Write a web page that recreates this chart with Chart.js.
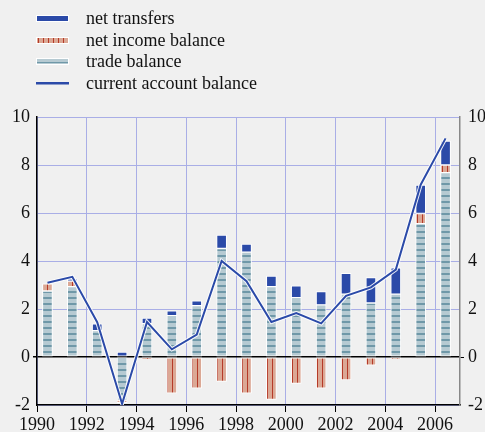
<!DOCTYPE html>
<html>
<head>
<meta charset="utf-8">
<script src="https://cdn.jsdelivr.net/npm/chart.js@4/dist/chart.umd.min.js"></script>
<style>
  html, body { margin: 0; padding: 0; background: #f0f0f0; }
  #wrap { position: relative; width: 485px; height: 432px; overflow: hidden; }
  #legend { position: absolute; left: 36px; top: 8px; font-family: "Liberation Serif", serif; font-size: 18px; color: #111; }
  .item { height: 21.5px; display: flex; align-items: center; }
  .item canvas { width: 33px; height: 7px; margin-right: 17px; }
</style>
</head>
<body>
<div id="wrap">
  <canvas id="chart" width="485" height="432"></canvas>
  <div id="legend"></div>
</div>
<script>
const years = [1990, 1991, 1992, 1993, 1994, 1995, 1996, 1997, 1998, 1999, 2000, 2001, 2002, 2003, 2004, 2005, 2006];
const tradeBalance = [2.75, 2.93, 1.1, -1.8, 1.39, 1.72, 2.14, 4.52, 4.37, 2.93, 2.47, 2.17, 2.62, 2.25, 2.62, 5.56, 7.68];
const netIncome = [0.3, 0.23, 0, -0.1, -0.08, -1.51, -1.3, -1.02, -1.51, -1.77, -1.1, -1.3, -0.96, -0.34, -0.07, 0.42, 0.32];
const netTransfers = [0, 0.1, 0.28, 0.2, 0.23, 0.2, 0.2, 0.56, 0.33, 0.44, 0.5, 0.56, 0.87, 1.06, 1.1, 1.18, 1.0];
const currentAccount = [3.09, 3.34, 1.45, -1.95, 1.46, 0.32, 0.93, 4.0, 3.16, 1.46, 1.83, 1.4, 2.55, 2.9, 3.64, 7.18, 9.11];
const xTicks = [1990, 1992, 1994, 1996, 1998, 2000, 2002, 2004, 2006];
const yTicks = [-2, 0, 2, 4, 6, 8, 10];

const BLUE = '#2b4aa8';
const GRID = '#a9aee6';

function makePattern(kind) {
    const c = document.createElement('canvas');
    const g = c.getContext('2d');
    if (kind === 'trade') {
        c.width = 8; c.height = 6;
        g.fillStyle = '#b6cad2';
        g.fillRect(0, 0, 8, 6);
        g.fillStyle = '#6f98a8';
        g.fillRect(0, 3, 8, 2);
    } else {
        c.width = 5; c.height = 4;
        g.fillStyle = '#dba895';
        g.fillRect(0, 0, 5, 4);
        g.fillStyle = '#b53a28';
        g.fillRect(2, 0, 1, 4);
    }
    return g.createPattern(c, 'repeat');
}

const tradeFill = makePattern('trade');
const incomeFill = makePattern('income');

const xy = arr => arr.map((v, i) => ({ x: years[i] + 0.42, y: v }));

const barBase = {
    type: 'bar',
    barThickness: 10,
    borderColor: '#ffffff',
    borderWidth: 1,
    borderSkipped: false,
    stack: 'bars',
    order: 2
};

// legend built as html
const legendItems = [
    { label: 'net transfers', kind: 'transfers' },
    { label: 'net income balance', kind: 'income' },
    { label: 'trade balance', kind: 'trade' },
    { label: 'current account balance', kind: 'line' }
];
const legendEl = document.getElementById('legend');
legendItems.forEach(item => {
    const row = document.createElement('div');
    row.className = 'item';
    const sw = document.createElement('canvas');
    sw.width = 33; sw.height = 7;
    const g = sw.getContext('2d');
    if (item.kind === 'transfers') {
        g.fillStyle = '#ffffff'; g.fillRect(0, 0, 33, 7);
        g.fillStyle = BLUE; g.fillRect(1, 1, 31, 5);
    } else if (item.kind === 'income') {
        g.fillStyle = '#ffffff'; g.fillRect(0, 0, 33, 7);
        g.fillStyle = incomeFill; g.fillRect(1, 1, 31, 5);
    } else if (item.kind === 'trade') {
        g.fillStyle = '#ffffff'; g.fillRect(0, 0, 33, 7);
        g.fillStyle = '#b6cad2'; g.fillRect(1, 1, 31, 5);
        g.fillStyle = '#6f98a8'; g.fillRect(1, 4, 31, 1);
    } else {
        g.fillStyle = BLUE; g.fillRect(0, 2, 33, 2.5);
    }
    row.appendChild(sw);
    const t = document.createElement('span');
    t.textContent = item.label;
    row.appendChild(t);
    legendEl.appendChild(row);
});

const font = { family: '"Liberation Serif", serif', size: 18 };

new Chart(document.getElementById('chart'), {
    type: 'bar',
    data: {
        datasets: [
            { ...barBase, label: 'trade balance', data: xy(tradeBalance), backgroundColor: tradeFill },
            { ...barBase, label: 'net income balance', data: xy(netIncome), backgroundColor: incomeFill },
            { ...barBase, label: 'net transfers', data: xy(netTransfers), backgroundColor: BLUE },
            {
                type: 'line', label: 'halo', data: xy(currentAccount), borderColor: 'rgba(255,255,255,0.9)',
                borderWidth: 4, pointRadius: 0, tension: 0, stack: 'halo', order: 1
            },
            {
                type: 'line', label: 'current account balance', data: xy(currentAccount), borderColor: BLUE,
                borderWidth: 2, pointRadius: 0, tension: 0, stack: 'ca', order: 0
            }
        ]
    },
    options: {
        responsive: false,
        animation: false,
        layout: { padding: { top: 117, left: 0, right: 0, bottom: 0 } },
        plugins: { legend: { display: false }, tooltip: { enabled: false } },
        scales: {
            x: {
                type: 'linear',
                min: 1990,
                max: 2007,
                offset: false,
                stacked: true,
                afterBuildTicks: s => { s.ticks = xTicks.map(v => ({ value: v })); },
                afterFit: s => { s.height = 27; },
                ticks: { color: '#111', font, padding: 2, maxRotation: 0, callback: v => String(v) },
                grid: { color: GRID, lineWidth: 1, tickColor: '#000', tickLength: 7, offset: false },
                border: { color: '#000', width: 1.5 }
            },
            y: {
                position: 'left',
                min: -2,
                max: 10,
                stacked: true,
                afterBuildTicks: s => { s.ticks = yTicks.map(v => ({ value: v })); },
                afterFit: s => { s.width = 37; },
                ticks: { color: '#111', font, padding: 3 },
                grid: {
                    color: c => c.tick && c.tick.value === 0 ? '#000' : GRID,
                    lineWidth: c => c.tick && c.tick.value === 0 ? 1.5 : 1,
                    tickColor: c => c.tick && c.tick.value === 0 ? '#000' : 'rgba(0,0,0,0)',
                    tickLength: 4
                },
                border: { color: '#000', width: 1.5 }
            },
            y2: {
                position: 'right',
                min: -2,
                max: 10,
                afterBuildTicks: s => { s.ticks = yTicks.map(v => ({ value: v })); },
                afterFit: s => { s.width = 25; },
                ticks: { color: '#111', font, padding: 4 },
                grid: {
                    drawOnChartArea: false,
                    tickColor: c => c.tick && c.tick.value === 0 ? '#000' : 'rgba(0,0,0,0)',
                    tickLength: 4
                },
                border: { color: '#888', width: 1.5 }
            }
        }
    }
});
</script>
</body>
</html>
